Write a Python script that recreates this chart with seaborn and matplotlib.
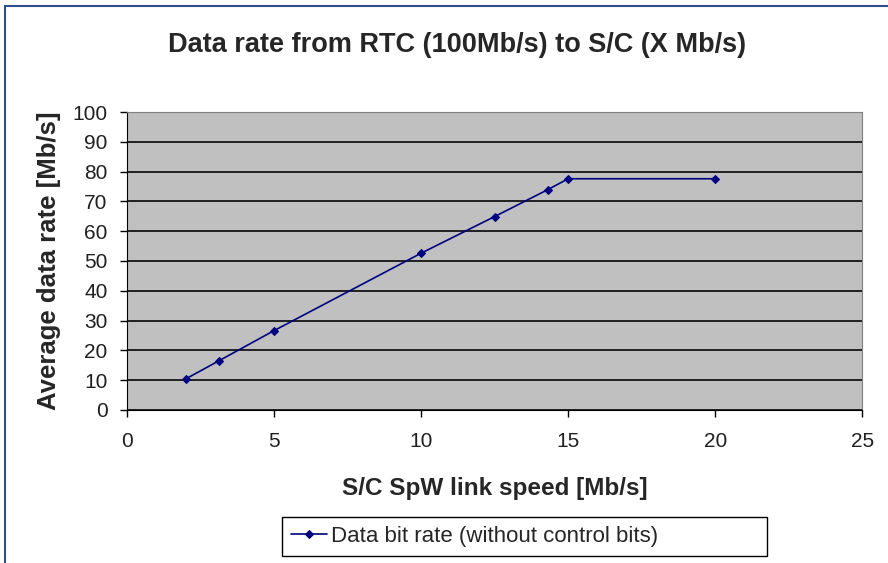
import pandas as pd
import matplotlib
matplotlib.use("Agg")
import matplotlib.pyplot as plt
import seaborn as sns
from matplotlib.patches import Rectangle

# Values
link_speed = [2, 3.13, 5, 10, 12.5, 14.3, 15, 20]
data_rate = [10.4, 16.5, 26.6, 52.6, 64.9, 73.9, 77.6, 77.6]
series_name = "Data bit rate (without control bits)"

df = pd.DataFrame({"speed": link_speed, "rate": data_rate, "serie": series_name})

sns.set_style("white")
plt.rcParams["font.family"] = ["Liberation Sans", "DejaVu Sans"]

fig = plt.figure(figsize=(8.88, 5.63), dpi=100)
ax = fig.add_axes([0.143, 0.272, 0.828, 0.529])
ax.set_facecolor("#c0c0c0")

sns.lineplot(data=df, x="speed", y="rate", hue="serie", palette=["#000080"],
             marker="D", markersize=4.5, markeredgecolor="#000080",
             linewidth=1.2, ax=ax)

ax.set_xlim(0, 25)
ax.set_ylim(0, 100)
ax.set_xticks(range(0, 26, 5))
ax.set_yticks(range(0, 101, 10))
ax.yaxis.grid(True, color="#202020", linewidth=1.4)
ax.set_axisbelow(True)
ax.tick_params(axis="both", labelsize=15, direction="out", length=5,
               width=1, color="black", bottom=True, left=True, colors="#202020")
ax.tick_params(axis="x", pad=11)
ax.tick_params(axis="y", pad=9)

for s in ["top", "right"]:
    ax.spines[s].set_color("#808080")
for s in ["left", "bottom"]:
    ax.spines[s].set_color("black")

ax.set_title("Data rate from RTC (100Mb/s) to S/C (X Mb/s)", fontsize=19.5,
             fontweight="bold", pad=43, x=0.449)
ax.set_xlabel("S/C SpW link speed [Mb/s]", fontsize=17.5, fontweight="bold", labelpad=19)
ax.set_ylabel("Average data rate [Mb/s]", fontsize=18.5, fontweight="bold", labelpad=8)

ax.legend(loc="upper left", bbox_to_anchor=(0.211, -0.36, 0.66, 0), mode="expand",
          borderaxespad=0, fontsize=16,
          frameon=True, fancybox=False, edgecolor="black", framealpha=1,
          handlelength=1.6, handletextpad=0.2, borderpad=0.4)
leg = ax.get_legend()
leg.get_frame().set_linewidth(1)

# outer border of the chart area
fig.patches.append(Rectangle((0.006, -0.01), 1.2, 1.0, transform=fig.transFigure,
                             fill=False, edgecolor="#30508a", linewidth=1.5))

fig.savefig("out.png", dpi=100)
